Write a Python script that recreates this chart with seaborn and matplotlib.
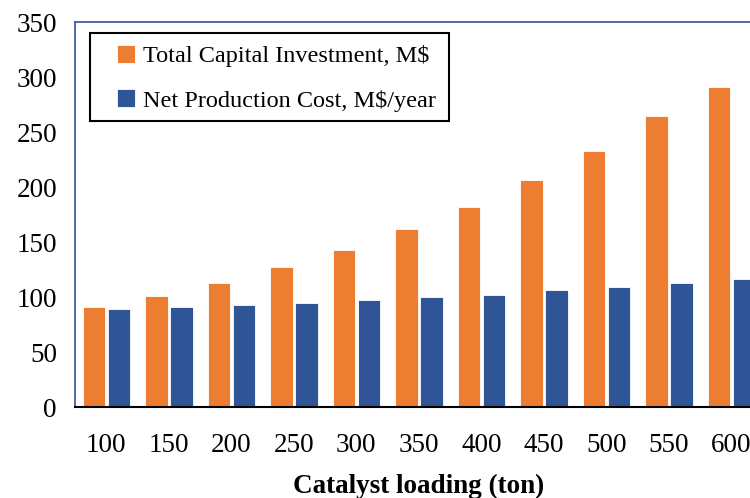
import numpy as np
import pandas as pd
import matplotlib.pyplot as plt
import seaborn as sns
from matplotlib.patches import Rectangle

# ── Data ──────────────────────────────────────────────────────────────────────
loading = [100, 150, 200, 250, 300, 350, 400, 450, 500, 550, 600]
capital = [91, 101, 113, 127, 143, 162, 182, 206, 233, 265, 291]
prod_cost = [89, 91, 93, 95, 97, 100, 102, 106, 109, 113, 116]
series_names = ["Total Capital Investment, M$", "Net Production Cost, M$/year"]
colors = ["#ED7D31", "#2F5597"]

df = pd.DataFrame({
    "loading": loading * 2,
    "value": capital + prod_cost,
    "series": [series_names[0]] * len(loading) + [series_names[1]] * len(loading),
})

# ── Plot ──────────────────────────────────────────────────────────────────────
sns.set_style("white")
plt.rcParams["font.family"] = ["Liberation Serif", "DejaVu Serif"]
plt.rcParams["text.color"] = "black"
plt.rcParams["axes.labelcolor"] = "black"

fig = plt.figure(figsize=(7.5, 4.98), dpi=100)
ax = fig.add_axes([0.1, 0.1827, 0.9167, 0.773])

sns.barplot(data=df, x="loading", y="value", hue="series",
            palette=colors, width=0.8, gap=0.1, saturation=1,
            edgecolor="white", linewidth=0.6, ax=ax)

ax.set_ylim(0, 350)
ax.set_yticks(np.arange(0, 351, 50))
ax.tick_params(axis="both", length=0, labelsize=19.5, colors="black")
ax.tick_params(axis="x", pad=19)
ax.tick_params(axis="y", pad=13)
ax.set_xlabel("Catalyst loading (ton)", fontsize=19.5, fontweight="bold",
              labelpad=11, color="black")
ax.set_ylabel("")

for side in ["left", "top", "right"]:
    ax.spines[side].set_color("#2F5597")
    ax.spines[side].set_linewidth(1.2)
ax.spines["bottom"].set_color("black")
ax.spines["bottom"].set_linewidth(1.5)

# legend without its own frame; a box with wider side padding is drawn instead
ax.legend(loc="upper left", bbox_to_anchor=(117 / 750, 1 - 45 / 498),
          bbox_transform=fig.transFigure, fontsize=17.5, frameon=False,
          labelcolor="black", handlelength=0.75, handleheight=0.75,
          handletextpad=0.3, borderpad=0, labelspacing=0.9, borderaxespad=0)
fig.patches.append(Rectangle((90 / 750, 1 - 121 / 498), 359 / 750, 88 / 498,
                             transform=fig.transFigure, fill=False,
                             edgecolor="black", linewidth=1.5, zorder=5))

fig.savefig("out.png", dpi=100)
